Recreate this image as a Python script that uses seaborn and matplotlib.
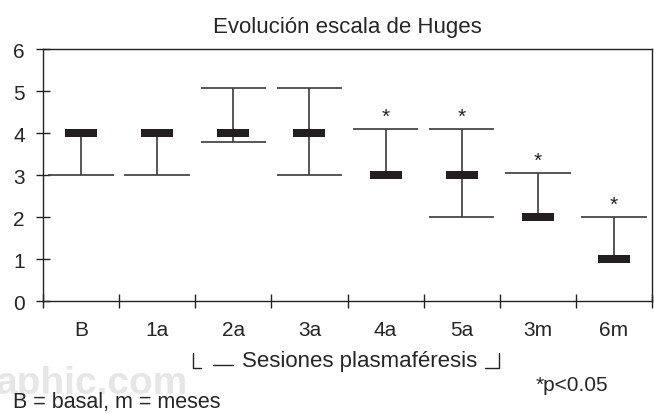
import numpy as np
import matplotlib
matplotlib.use("Agg")
import matplotlib.pyplot as plt
from matplotlib.lines import Line2D
import seaborn as sns

# data
categories = ["B", "1a", "2a", "3a", "4a", "5a", "3m", "6m"]
median = [4, 4, 4, 4, 3, 3, 2, 1]
low = [3, 3, 3.78, 3, 3, 2, 2, 1]
high = [4, 4, 5.07, 5.07, 4.1, 4.1, 3.05, 2.0]
significant = [False, False, False, False, True, True, True, True]

W, H = 654, 414

sns.set_style("white")
plt.rcParams['font.family'] = ['Liberation Sans', 'DejaVu Sans']

fig = plt.figure(figsize=(W / 100, H / 100), dpi=100)


def fx(px):
    return px / W


def fy(py):
    return 1 - py / H


ax = fig.add_axes([fx(43), fy(302), fx(652) - fx(43), fy(50) - fy(302)])

xpos = np.arange(len(categories))
line_col = "#3a3a3a"
bar_col = "#231f20"

# whiskers
ax.vlines(xpos, low, high, color=line_col, lw=1.2, zorder=2)
cap_half = 0.43
for x, lo, hi, med in zip(xpos, low, high, median):
    if lo < med:
        ax.hlines(lo, x - cap_half, x + cap_half, color=line_col, lw=1.2, zorder=2)
    if hi > med:
        ax.hlines(hi, x - cap_half, x + cap_half, color=line_col, lw=1.2, zorder=2)

# median bars as wide rectangle markers
rect = [(-1, -0.25), (1, -0.25), (1, 0.25), (-1, 0.25), (-1, -0.25)]
sns.scatterplot(x=xpos, y=median, marker=rect, s=530, color=bar_col,
                linewidth=0, zorder=3, ax=ax, legend=False)

# significance stars
for x, hi, sig in zip(xpos, high, significant):
    if sig:
        ax.text(x, hi + 0.3, "*", ha="center", va="center", fontsize=15, color="#222222")

ax.set_xlim(-0.5, len(categories) - 0.5)
ax.set_ylim(0, 6)
ax.set_yticks(range(0, 7))
ax.set_xticks(np.arange(-0.5, len(categories), 1.0))
ax.set_xticklabels([])
ax.set_xticks(xpos, minor=True)
ax.set_xticklabels(categories, minor=True)
ax.tick_params(axis="y", which="major", left=True, direction="inout", length=10, width=1,
               color="#222222", labelsize=15, pad=8)
ax.tick_params(axis="x", which="major", bottom=True, direction="inout", length=10, width=1,
               color="#222222")
ax.tick_params(axis="x", which="minor", bottom=True, length=0, labelsize=15, pad=14)
ax.set_xlabel("")
ax.set_ylabel("")
for sp in ax.spines.values():
    sp.set_visible(True)
    sp.set_color("#222222")
    sp.set_linewidth(1.0)

# title and notes
fig.text(fx(347), fy(28), "Evolución escala de Huges", ha="center", va="center", fontsize=16)

# watermark
fig.text(fx(-4), fy(394), "aphic.com", ha="left", va="baseline", fontsize=28,
         fontweight="bold", color="#e6e6e6", zorder=0)

fig.text(fx(360), fy(362), "Sesiones plasmaféresis", ha="center", va="center", fontsize=16)
fig.text(fx(572), fy(386), "*p<0.05", ha="center", va="center", fontsize=15)
fig.text(fx(13), fy(403), "B = basal, m = meses", ha="left", va="center", fontsize=15.5)

bracket = [
    ([193, 193, 201], [354, 369, 369]),
    ([213, 233], [366, 366]),
    ([485, 499, 499], [369, 369, 354]),
]
for xs, ys in bracket:
    fig.add_artist(Line2D([fx(v) for v in xs], [fy(v) for v in ys],
                          transform=fig.transFigure, color="#222222", lw=1.0))

fig.savefig("out.png", dpi=100)
